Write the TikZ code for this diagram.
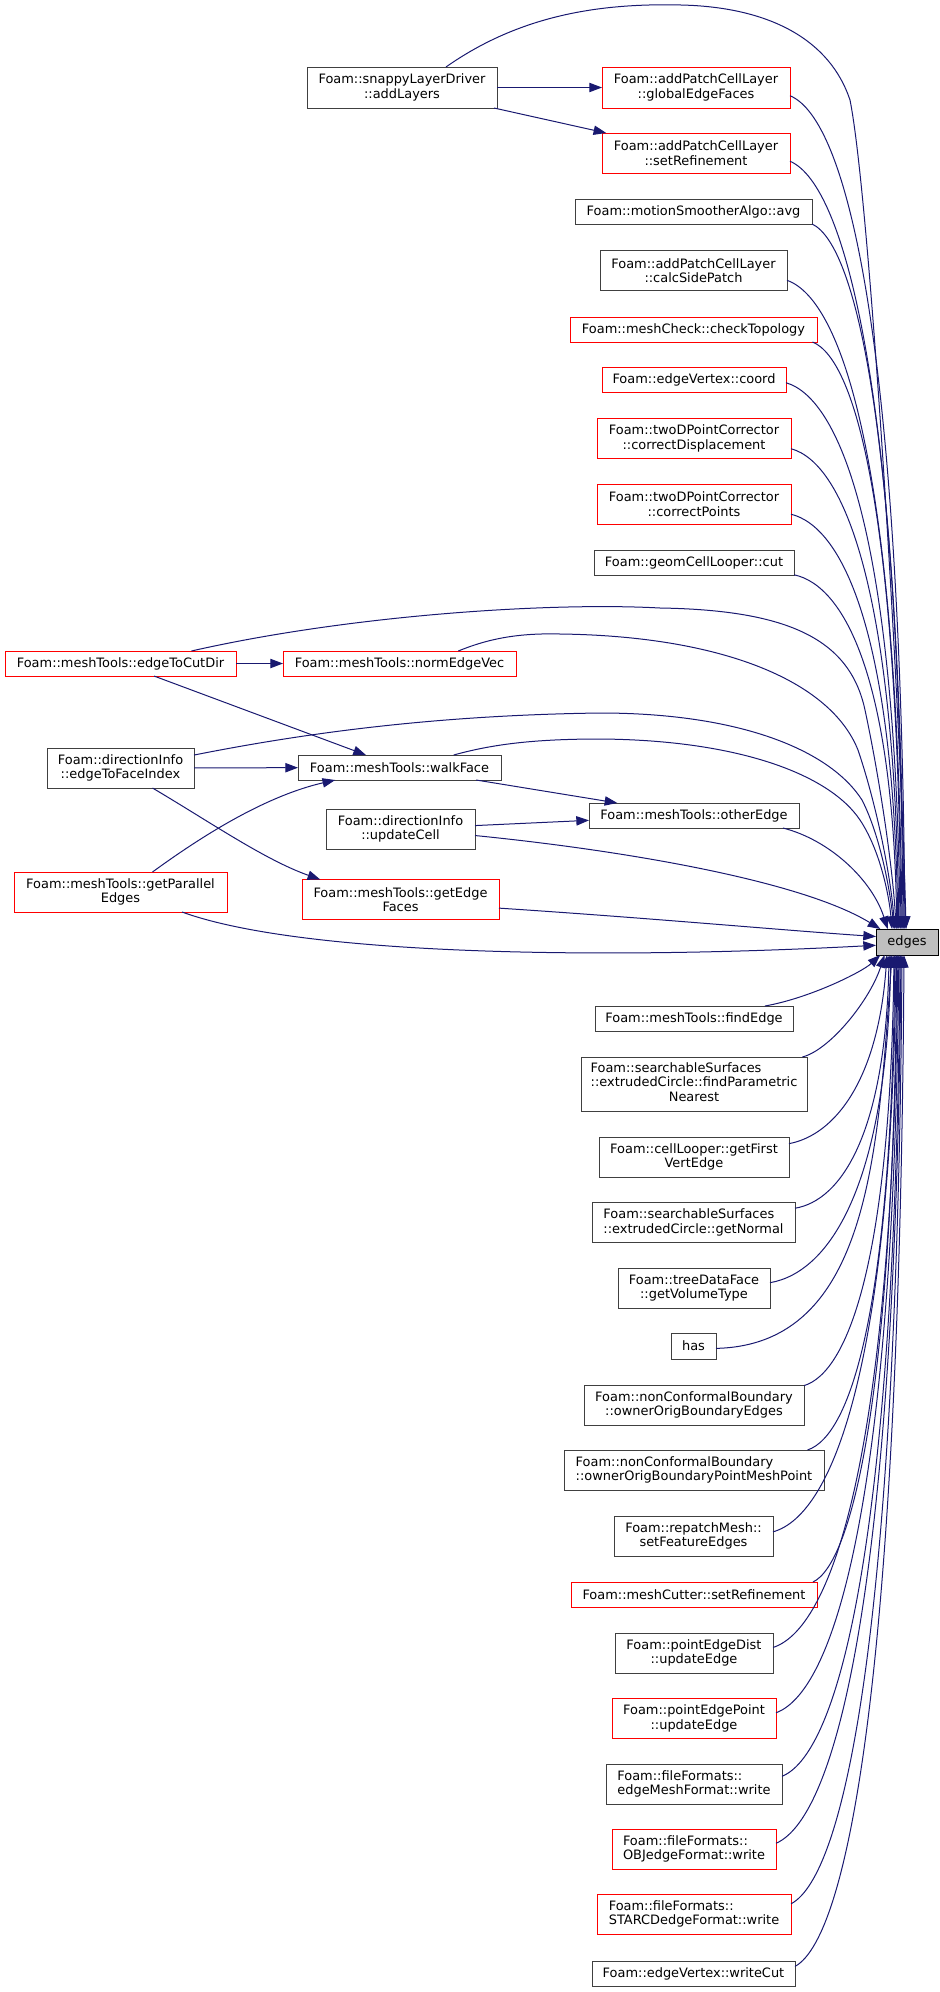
\documentclass[tikz,border=0pt]{standalone}
\usepackage{fontspec}
\setmainfont{DejaVu Sans}
\usetikzlibrary{arrows.meta}
\definecolor{edgeblue}{HTML}{191970}
\definecolor{nodegray}{HTML}{404040}
\definecolor{maingray}{HTML}{BFBFBF}
\definecolor{boxred}{HTML}{FF0000}
\begin{document}
\begin{tikzpicture}[x=0.75pt,y=-0.75pt,
 nbox/.style={draw=nodegray,line width=0.75pt,fill=white,inner sep=1pt,outer sep=0pt,font=\fontsize{9.7}{10.9}\selectfont},
 rbox/.style={nbox,draw=boxred},
 ac/.style={align=center},
 al/.style={align=left},
 bw/.style={minimum width=#1*0.75pt},
 bh/.style={minimum height=#1*0.75pt},
 conn/.style={draw=edgeblue,line width=0.75pt,-{Triangle[length=9.5pt,width=7pt]}}]
\useasboundingbox (0,0) rectangle (939,1992);
% nodes
\node[nbox,ac,bw=190,bh=41] (snappy) at (402,87.5) {Foam::snappyLayerDriver\\::addLayers};
\node[rbox,ac,bw=188,bh=41] (globaledge) at (696,87.5) {Foam::addPatchCellLayer\\::globalEdgeFaces};
\node[rbox,ac,bw=188,bh=40] (setref) at (696,153) {Foam::addPatchCellLayer\\::setRefinement};
\node[nbox,bw=237,bh=25] (avg) at (693.5,211.5) {Foam::motionSmootherAlgo::avg};
\node[nbox,ac,bw=187,bh=40] (calcside) at (693.5,270.5) {Foam::addPatchCellLayer\\::calcSidePatch};
\node[rbox,bw=247,bh=25] (checktopo) at (693.5,329.5) {Foam::meshCheck::checkTopology};
\node[rbox,bw=184,bh=25] (coord) at (694,379.5) {Foam::edgeVertex::coord};
\node[rbox,ac,bw=194,bh=40] (corrdisp) at (694,438.5) {Foam::twoDPointCorrector\\::correctDisplacement};
\node[rbox,ac,bw=194,bh=40] (corrpts) at (694,504) {Foam::twoDPointCorrector\\::correctPoints};
\node[nbox,bw=200,bh=25] (cut) at (694,562.5) {Foam::geomCellLooper::cut};
\node[rbox,bw=231,bh=25] (cutdir) at (120.5,663.5) {Foam::meshTools::edgeToCutDir};
\node[rbox,bw=233,bh=25] (normedge) at (399.5,663.5) {Foam::meshTools::normEdgeVec};
\node[nbox,ac,bw=147,bh=40] (efi) at (120.5,768) {Foam::directionInfo\\::edgeToFaceIndex};
\node[nbox,bw=203,bh=25] (walkface) at (399.5,767.5) {Foam::meshTools::walkFace};
\node[nbox,bw=210,bh=25] (otheredge) at (694,815.5) {Foam::meshTools::otherEdge};
\node[nbox,ac,bw=149,bh=40] (updatecell) at (400.5,829) {Foam::directionInfo\\::updateCell};
\node[rbox,ac,bw=213,bh=40] (getpar) at (120.5,892) {Foam::meshTools::getParallel\\Edges};
\node[rbox,ac,bw=197,bh=40] (getedge) at (400.5,899.5) {Foam::meshTools::getEdge\\Faces};
\node[nbox,draw=black,fill=maingray,bw=62,bh=26] (edges) at (907,942) {edges};
\node[nbox,bw=198,bh=25] (findedge) at (694,1018.5) {Foam::meshTools::findEdge};
\node[nbox,bw=226,bh=54] (findparam) at (694,1084) {\begin{tabular}{@{}l@{}}Foam::searchableSurfaces\\::extrudedCircle::findParametric\\\multicolumn{1}{@{}c@{}}{Nearest}\end{tabular}};
\node[nbox,ac,bw=190,bh=40] (firstvert) at (694,1157) {Foam::cellLooper::getFirst\\VertEdge};
\node[nbox,al,bw=203,bh=40] (getnormal) at (693.5,1222.5) {Foam::searchableSurfaces\\::extrudedCircle::getNormal};
\node[nbox,ac,bw=152,bh=40] (getvol) at (694,1288) {Foam::treeDataFace\\::getVolumeType};
\node[nbox,bw=45,bh=26] (has) at (693.5,1346) {has};
\node[nbox,ac,bw=220,bh=40] (ownedges) at (694,1405) {Foam::nonConformalBoundary\\::ownerOrigBoundaryEdges};
\node[nbox,al,bw=260,bh=40] (pointmesh) at (694,1470) {Foam::nonConformalBoundary\\::ownerOrigBoundaryPointMeshPoint};
\node[nbox,ac,bw=159,bh=40] (setfeat) at (693.5,1536) {Foam::repatchMesh::\\setFeatureEdges};
\node[rbox,bw=246,bh=25] (meshcutter) at (694,1594.5) {Foam::meshCutter::setRefinement};
\node[nbox,ac,bw=158,bh=40] (pedist) at (694,1653) {Foam::pointEdgeDist\\::updateEdge};
\node[rbox,ac,bw=164,bh=40] (pepoint) at (694,1718.5) {Foam::pointEdgePoint\\::updateEdge};
\node[nbox,al,bw=176,bh=40] (edgemesh) at (694,1784) {Foam::fileFormats::\\edgeMeshFormat::write};
\node[rbox,al,bw=164,bh=40] (objedge) at (694,1849) {Foam::fileFormats::\\OBJedgeFormat::write};
\node[rbox,al,bw=194,bh=40] (starcd) at (694,1914) {Foam::fileFormats::\\STARCDedgeFormat::write};
\node[nbox,bw=203,bh=25] (writecut) at (693.5,1973.5) {Foam::edgeVertex::writeCut};
% left-side connectors
\draw[conn] (snappy) -- (globaledge);
\draw[conn] (snappy) -- (setref);
\draw[conn] (cutdir) -- (normedge);
\draw[conn] (cutdir) -- (walkface);
\draw[conn] (efi) -- (walkface);
\draw[conn] (efi.-32) .. controls (210,822) and (265,860) .. (getedge.166);
\draw[conn] (getpar.32) .. controls (210,830) and (270,795) .. (walkface.-169);
\draw[conn] (walkface) -- (otheredge);
\draw[conn] (updatecell) -- (otheredge);
% arcs into edges
\draw[conn] (snappy.25) .. controls (520,15) and (600,3) .. (681,5) .. controls (770,7) and (830,40) .. (850,100) .. controls (870,200) and (900,700) .. (edges.94);
\draw[conn] (cutdir.10) .. controls (350,615) and (550,602) .. (660,608) .. controls (790,610) and (850,640) .. (865,710) .. controls (880,780) and (893,870) .. (edges.130);
\draw[conn] (normedge.12) .. controls (490,638) and (520,633) .. (560,634) .. controls (720,636) and (830,680) .. (858,750) .. controls (875,800) and (890,870) .. (edges.133);
\draw[conn] (efi.10) .. controls (320,730) and (450,715) .. (600,713) .. controls (740,713) and (830,750) .. (862,800) .. controls (880,835) and (890,890) .. (edges.135);
\draw[conn] (walkface.13) .. controls (490,745) and (530,739) .. (600,739) .. controls (740,740) and (830,775) .. (860,820) .. controls (880,850) and (889,895) .. (edges.139);
% upper callers
\draw[conn] (globaledge.-5) .. controls (848.5,120) and (900.5,345) .. (edges.99);
\draw[conn] (setref.-5) .. controls (845.5,185) and (899.3,392) .. (edges.103);
\draw[conn] (avg.-6) .. controls (857,245) and (899.3,435.5) .. (edges.107);
\draw[conn] (calcside.-6) .. controls (844.5,300.4) and (897.4,475.4) .. (edges.111);
\draw[conn] (checktopo.-6) .. controls (856.7,359.6) and (897.5,518) .. (edges.115);
\draw[conn] (coord.-2) .. controls (843,399.4) and (895.4,546.8) .. (edges.118);
\draw[conn] (corrdisp.-6) .. controls (845,463.4) and (894.7,593) .. (edges.122);
\draw[conn] (corrpts.-6) .. controls (844.5,527.4) and (893.7,639) .. (edges.125);
\draw[conn] (cut.-7) .. controls (845.5,585.6) and (892.9,681) .. (edges.128);
\draw[conn] (otheredge.-8) .. controls (830,840) and (872,880) .. (edges.146);
\draw[conn] (updatecell.-5) .. controls (620,850) and (800,880) .. (edges.154);
\draw[conn] (getedge.-5) .. controls (650,918) and (780,930) .. (edges.170);
\draw[conn] (getpar.-18) .. controls (300,955) and (600,960) .. (edges.186);
% lower callers
\draw[conn] (findedge.10) .. controls (810,998) and (862,972) .. (edges.-154);
\draw[conn] (findparam.14) .. controls (830,1050) and (870,1000) .. (edges.-150);
\draw[conn] (firstvert.8) .. controls (835,1135) and (878,1080) .. (edges.-147);
\draw[conn] (getnormal.8) .. controls (842,1200.4) and (885.2,1132.1) .. (edges.-144);
\draw[conn] (getvol.4) .. controls (830.5,1272.2) and (886.2,1183.9) .. (edges.-141);
\draw[conn] (has.-6) .. controls (870,1345) and (878,1150) .. (edges.-139);
\draw[conn] (ownedges.10) .. controls (849,1372.1) and (890.4,1256) .. (edges.-135);
\draw[conn] (pointmesh.10) .. controls (852.5,1435.2) and (891.6,1301.5) .. (edges.-133);
\draw[conn] (setfeat.3) .. controls (834.5,1514.7) and (891,1358.9) .. (edges.-130);
\draw[conn] (meshcutter.6) .. controls (852.5,1563.2) and (893.4,1393.9) .. (edges.-128);
\draw[conn] (pedist.4) .. controls (835.5,1627.2) and (893,1440.1) .. (edges.-125);
\draw[conn] (pepoint.4) .. controls (837.5,1690.3) and (894,1485.6) .. (edges.-122);
\draw[conn] (edgemesh.5) .. controls (841,1752.3) and (895.3,1530.4) .. (edges.-118);
\draw[conn] (objedge.4) .. controls (838.5,1816.4) and (896,1576.6) .. (edges.-115);
\draw[conn] (starcd.6) .. controls (846.5,1874.6) and (897.6,1618.6) .. (edges.-111);
\draw[conn] (writecut.4) .. controls (849.5,1936.6) and (899.6,1663.4) .. (edges.-103);
\end{tikzpicture}
\end{document}
